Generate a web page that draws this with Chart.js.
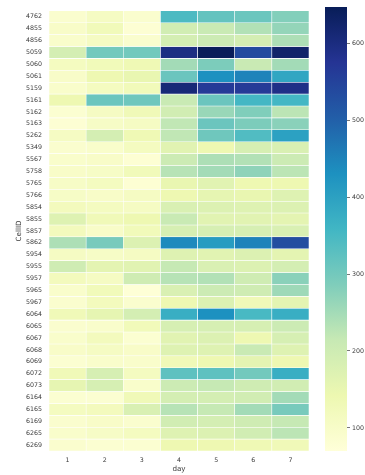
<!DOCTYPE html>
<html>
<head>
<meta charset="utf-8">
<script src="https://cdn.jsdelivr.net/npm/chart.js@4.4.1/dist/chart.umd.min.js"></script>
<style>
  html, body { margin: 0; padding: 0; background: #fff; }
  body { width: 365px; height: 475px; position: relative; overflow: hidden; }
  #heat { position: absolute; left: 0; top: 0; }
  #cbar { position: absolute; left: 320px; top: 0; }
</style>
</head>
<body>
<canvas id="heat" width="320" height="475"></canvas>
<canvas id="cbar" width="45" height="475"></canvas>
<script>
// Daily counts per cell
const cellIds = ['4762','4855','4856','5059','5060','5061','5159','5161','5162','5163','5262','5349','5567','5758','5765','5766','5854','5855','5857','5862','5954','5955','5957','5965','5967','6064','6065','6067','6068','6069','6072','6073','6164','6165','6169','6265','6269'];
const days = ['1','2','3','4','5','6','7'];
const counts = [
  [ 90, 110,  90, 345, 318, 308, 282],
  [100, 125,  80, 195, 210, 235, 265],
  [ 95, 110,  90, 190, 205, 190, 240],
  [190, 300, 300, 595, 645, 535, 625],
  [115, 125, 135, 250, 290, 210, 250],
  [100, 140, 150, 310, 430, 450, 390],
  [ 95, 115, 125, 610, 565, 565, 590],
  [140, 310, 305, 210, 310, 355, 355],
  [ 85, 110, 130, 195, 260, 285, 225],
  [ 80, 105, 110, 220, 310, 290, 275],
  [110, 190, 135, 220, 305, 340, 400],
  [ 90,  95, 115, 165, 140, 185, 180],
  [ 95, 100,  80, 205, 240, 235, 205],
  [100, 105, 125, 230, 250, 270, 225],
  [105, 115,  80, 150, 165, 140, 140],
  [105, 100, 110, 140, 155, 150, 170],
  [120, 115, 110, 180, 175, 170, 175],
  [170, 130, 140, 210, 165, 165, 160],
  [120, 100, 125, 185, 185, 185, 180],
  [240, 295, 175, 440, 410, 450, 530],
  [110, 105, 110, 170, 165, 175, 160],
  [200, 160, 165, 215, 180, 175, 190],
  [120, 110, 200, 230, 235, 200, 275],
  [ 95, 125,  75, 180, 205, 200, 255],
  [ 90, 120,  90, 140, 175, 130, 160],
  [130, 155, 190, 375, 430, 350, 375],
  [ 90,  95, 125, 185, 185, 185, 205],
  [ 95, 120,  85, 165, 175, 140, 185],
  [100, 110, 100, 170, 170, 210, 170],
  [ 85,  95,  95, 130, 140, 160, 140],
  [130, 185, 115, 325, 325, 300, 375],
  [155, 185,  95, 205, 215, 200, 195],
  [ 85,  85, 130, 190, 190, 195, 250],
  [115, 120, 180, 230, 215, 250, 295],
  [ 90, 100,  90, 195, 190, 200, 215],
  [ 95, 105, 115, 170, 175, 195, 225],
  [ 90,  85,  85, 140, 140, 135, 130]
];
const colorTicks = [100, 200, 300, 400, 500, 600];
const vMin = 70, vMax = 647;

// YlGnBu colour ramp
const ramp = ['#ffffd9','#edf8b1','#c7e9b4','#7fcdbb','#41b6c4','#1d91c0','#225ea8','#253494','#081d58'];
const rampRgb = ramp.map(h => [1, 3, 5].map(i => parseInt(h.substr(i, 2), 16)));
function colorFor(v) {
  let t = (v - vMin) / (vMax - vMin);
  t = Math.max(0, Math.min(1, t));
  const pos = t * (ramp.length - 1);
  const i = Math.min(Math.floor(pos), ramp.length - 2);
  const f = pos - i;
  const a = rampRgb[i], b = rampRgb[i + 1];
  const c = a.map((x, k) => Math.round(x + (b[k] - x) * f));
  return `rgb(${c[0]},${c[1]},${c[2]})`;
}

const tickFont = { family: 'DejaVu Sans', size: 6.3 };
const titleFont = { family: 'DejaVu Sans', size: 7.2 };
const txt = '#3a3a3a';

// one floating-bar dataset per cell row
const rows = cellIds.length;
const datasets = counts.map((row, r) => ({
  data: row.map(() => [r, r + 1]),
  backgroundColor: row.map(colorFor),
  borderColor: '#ffffff',
  borderWidth: 0.6,
  borderSkipped: false,
  grouped: false,
  barPercentage: 1,
  categoryPercentage: 1
}));

new Chart(document.getElementById('heat'), {
  type: 'bar',
  data: { labels: days, datasets },
  options: {
    responsive: false,
    animation: false,
    layout: { padding: { top: 7, right: 11, bottom: 0, left: 0 } },
    plugins: { legend: { display: false }, tooltip: { enabled: false } },
    scales: {
      x: {
        grid: { display: false, drawTicks: false, tickLength: 0 },
        border: { display: false },
        ticks: { font: tickFont, color: txt, padding: 6, maxRotation: 0 },
        title: { display: true, text: 'day', font: titleFont, color: txt, padding: { top: 0, bottom: 2 } },
        afterFit: s => { s.height = 24; }
      },
      y: {
        type: 'linear',
        min: 0,
        max: rows,
        reverse: true,
        grid: { display: false, drawTicks: false, tickLength: 0 },
        border: { display: false },
        afterBuildTicks: s => { s.ticks = cellIds.map((_, i) => ({ value: i + 0.5 })); },
        ticks: { font: tickFont, color: txt, padding: 7, autoSkip: false, callback: v => cellIds[Math.floor(v)] },
        title: { display: true, text: 'CellID', font: titleFont, color: txt, padding: { top: 15, bottom: 0 } },
        afterFit: s => { s.width = 49; }
      }
    }
  }
});

// colour bar
function rampGradient(ctx) {
  const area = ctx.chart.chartArea;
  if (!area) return ramp[0];
  const g = ctx.chart.ctx.createLinearGradient(0, area.bottom, 0, area.top);
  ramp.forEach((c, i) => g.addColorStop(i / (ramp.length - 1), c));
  return g;
}

new Chart(document.getElementById('cbar'), {
  type: 'bar',
  data: { labels: [''], datasets: [{ data: [[vMin, vMax]], backgroundColor: rampGradient, borderWidth: 0, barPercentage: 1, categoryPercentage: 1 }] },
  options: {
    responsive: false,
    animation: false,
    layout: { padding: { top: 7, right: 0, bottom: 24, left: 5 } },
    plugins: { legend: { display: false }, tooltip: { enabled: false } },
    scales: {
      x: { display: false },
      y: {
        position: 'right',
        min: vMin,
        max: vMax,
        afterBuildTicks: s => { s.ticks = colorTicks.map(v => ({ value: v })); },
        grid: { display: true, drawOnChartArea: false, drawTicks: true, tickLength: 3, color: '#555', lineWidth: 0.8 },
        border: { display: false },
        ticks: { font: tickFont, color: txt, padding: 2 },
        afterFit: s => { s.width = 18; }
      }
    }
  }
});
</script>
</body>
</html>
